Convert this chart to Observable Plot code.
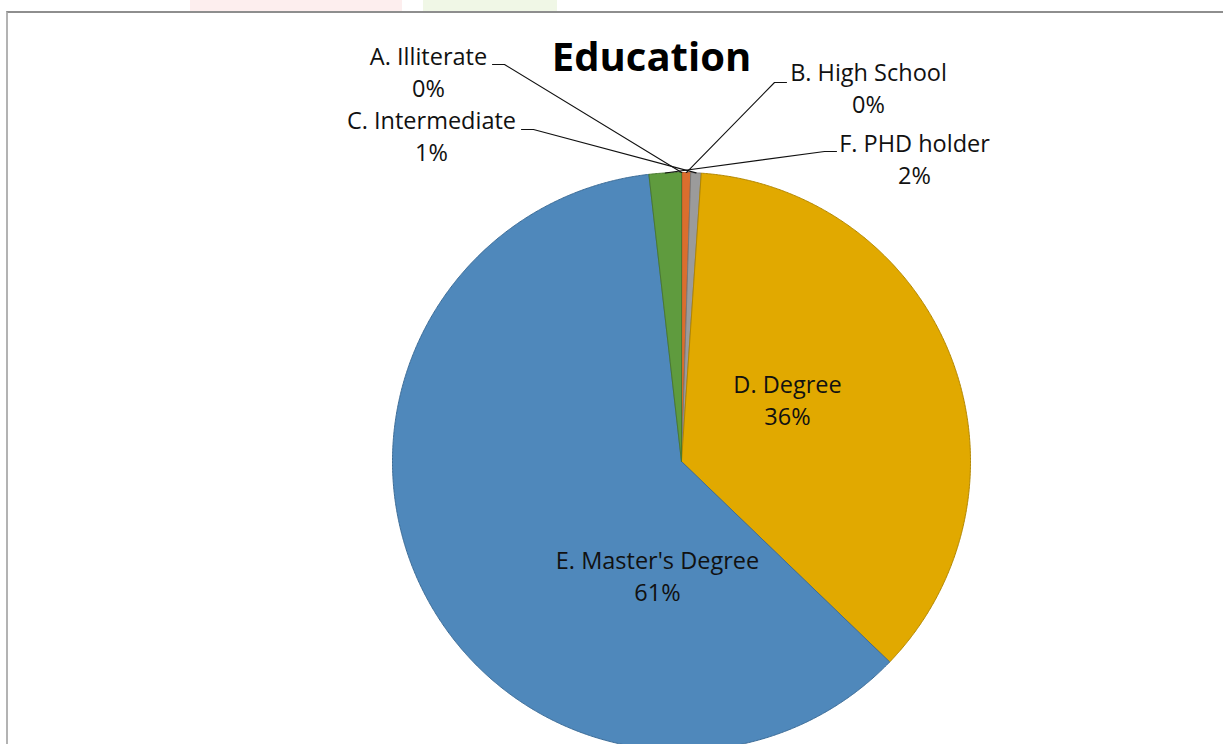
<!DOCTYPE html>
<html><head><meta charset="utf-8">
<script src="https://cdn.jsdelivr.net/npm/d3@7"></script>
<script src="https://cdn.jsdelivr.net/npm/@observablehq/plot@0.6"></script>
<style>
html,body{margin:0;padding:0;background:#fff;overflow:hidden;width:1223px;height:744px}
#wm1{position:absolute;left:190px;top:0;width:212px;height:11px;background:#fdeeee}
#wm2{position:absolute;left:423px;top:0;width:134px;height:11px;background:#f0f7e6}
#frame{position:absolute;left:6px;top:11px;width:1240px;height:760px;border-left:2px solid #b3b3b3;border-top:2px solid #8e8e8e}
#chart{position:absolute;left:0;top:0}
</style></head><body>
<div id="wm1"></div><div id="wm2"></div><div id="frame"></div><div id="chart"></div>
<script>
// ---- data ----
const title = "Education";
const categories = ["A. Illiterate", "B. High School", "C. Intermediate", "D. Degree", "E. Master's Degree", "F. PHD holder"];
const shares = [0.02, 0.49, 0.58, 36.11, 61.0, 1.8];
const fills = ["#4f88bb", "#da6e2e", "#9b9b9b", "#e1a900", "#4f88bb", "#5f9b3e"];
const edges = ["#3d6d98", "#ad5522", "#7a7a7a", "#b38700", "#3d6d98", "#4a7a30"];

// ---- layout (pixels) ----
const W = 1223, H = 744, CX = 681, CY = 461, R = 289;
const labelCenters = {
  "A. Illiterate": [428, 74], "B. High School": [868, 90], "C. Intermediate": [431, 138],
  "D. Degree": [787, 402], "E. Master's Degree": [657, 578], "F. PHD holder": [914, 161]
};
// leader: [x where line starts (next to text), elbow x, y of horizontal part]
const leaders = {
  "A. Illiterate": [492, 504, 64], "C. Intermediate": [521, 533, 129],
  "B. High School": [786, 774, 82], "F. PHD holder": [836, 824, 151]
};
const ux = px => (px - CX) / R, uy = py => (CY - py) / R;

const total = d3.sum(shares);
const arcs = d3.pie().sort(null).value(d => d)(shares);

const marks = [];
arcs.forEach((a, i) => {
  const pts = [{x: 0, y: 0}];
  const n = Math.max(2, Math.ceil((a.endAngle - a.startAngle) / 0.005));
  for (let k = 0; k <= n; k++) {
    const t = a.startAngle + (a.endAngle - a.startAngle) * k / n;
    pts.push({x: Math.sin(t), y: Math.cos(t)});
  }
  pts.push({x: 0, y: 0});
  marks.push(Plot.line(pts, {x: "x", y: "y", fill: fills[i], stroke: edges[i], strokeWidth: 1, curve: "linear"}));
});

const labels = categories.map((c, i) => ({
  name: c,
  text: c + "\n" + Math.round(shares[i] / total * 100) + "%",
  x: ux(labelCenters[c][0]), y: uy(labelCenters[c][1])
}));

const leaderPts = [];
categories.forEach((c, i) => {
  if (!leaders[c]) return;
  const [x0, x1, y0] = leaders[c];
  const mid = (arcs[i].startAngle + arcs[i].endAngle) / 2;
  leaderPts.push({k: c, x: ux(x0), y: uy(y0)});
  leaderPts.push({k: c, x: ux(x1), y: uy(y0)});
  leaderPts.push({k: c, x: Math.sin(mid), y: Math.cos(mid)});
});

marks.push(Plot.line(leaderPts, {x: "x", y: "y", z: "k", stroke: "#111", strokeWidth: 1.1}));
marks.push(Plot.text(labels, {x: "x", y: "y", text: "text", fontSize: 23.5, lineHeight: 1.38, dy: -4, fill: "#111", fontFamily: "Open Sans"}));
marks.push(Plot.text([title], {x: () => ux(651), y: () => uy(58), text: d => d, fontSize: 40, fontWeight: "bold", fill: "#000", fontFamily: "Open Sans"}));

const chart = Plot.plot({
  width: W, height: H,
  margin: 0,
  style: {background: "transparent", overflow: "hidden"},
  x: {domain: [ux(0), ux(W)], range: [0, W], axis: null},
  y: {domain: [uy(H), uy(0)], range: [H, 0], axis: null},
  marks
});
document.getElementById("chart").appendChild(chart);
</script>
</body></html>
